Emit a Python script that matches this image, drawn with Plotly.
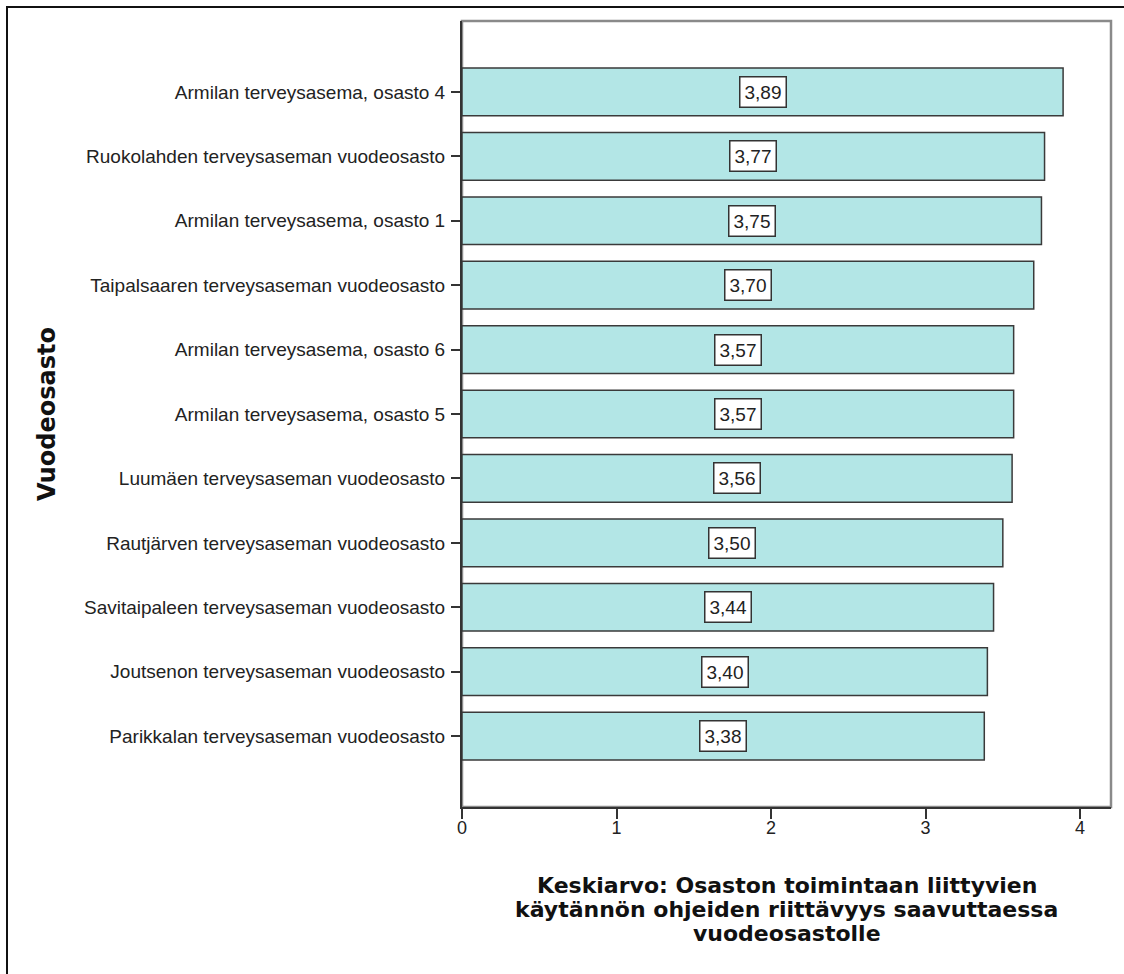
import plotly.graph_objects as go

# Ward names (top to bottom) and their mean scores
wards = [
    "Armilan terveysasema, osasto 4",
    "Ruokolahden terveysaseman vuodeosasto",
    "Armilan terveysasema, osasto 1",
    "Taipalsaaren terveysaseman vuodeosasto",
    "Armilan terveysasema, osasto 6",
    "Armilan terveysasema, osasto 5",
    "Luumäen terveysaseman vuodeosasto",
    "Rautjärven terveysaseman vuodeosasto",
    "Savitaipaleen terveysaseman vuodeosasto",
    "Joutsenon terveysaseman vuodeosasto",
    "Parikkalan terveysaseman vuodeosasto",
]
means = [3.89, 3.77, 3.75, 3.70, 3.57, 3.57, 3.56, 3.50, 3.44, 3.40, 3.38]
x_ticks = [0, 1, 2, 3, 4]

y_title = "Vuodeosasto"
x_title_lines = [
    "Keskiarvo: Osaston toimintaan liittyvien",
    "käytännön ohjeiden riittävyys saavuttaessa",
    "vuodeosastolle",
]

W, H = 1124, 974
L, R, T, B = 462, 13, 21, 167
plot_h = H - T - B
plot_w = W - L - R

TITLE_FONT = "DejaVu Sans, Verdana, sans-serif"
TICK_FONT = "Liberation Sans, Arial, sans-serif"

fig = go.Figure()
fig.add_trace(go.Bar(
    x=means,
    y=wards,
    orientation="h",
    width=0.74,
    marker=dict(color="#b3e6e6", line=dict(color="#3a3a3a", width=1.5)),
    hoverinfo="x+y",
))

# Value boxes at the middle of each bar
for w, v in zip(wards, means):
    fig.add_annotation(
        x=v / 2, y=w, xref="x", yref="y",
        text=f"{v:.2f}".replace(".", ","),
        showarrow=False,
        font=dict(family=TICK_FONT, size=19, color="#222222"),
        bgcolor="white",
        bordercolor="#333333",
        borderwidth=1.5,
        borderpad=4,
    )

def px_to_paper_x(px):
    return (px - L) / plot_w

def px_to_paper_y(py):
    return (H - B - py) / plot_h

# X axis title, one line per annotation for tight line spacing
for i, line in enumerate(x_title_lines):
    fig.add_annotation(
        x=0.5, y=px_to_paper_y(885 + 24 * i), xref="paper", yref="paper",
        xanchor="center", yanchor="middle",
        text=f"<b>{line}</b>", showarrow=False,
        font=dict(family=TITLE_FONT, size=22, color="#111111"),
    )

# Y axis title
fig.add_annotation(
    x=px_to_paper_x(47), y=0.5, xref="paper", yref="paper",
    xanchor="center", yanchor="middle", textangle=-90,
    text=f"<b>{y_title}</b>", showarrow=False,
    font=dict(family=TITLE_FONT, size=24, color="#111111"),
)

# Plot frame (grey) and outer border (black)
fig.add_shape(type="rect", xref="paper", yref="paper", x0=0, x1=1, y0=0, y1=1,
              line=dict(color="#8a8a8a", width=2.5), layer="below")
fig.add_shape(type="rect", xref="paper", yref="paper",
              x0=px_to_paper_x(7), x1=px_to_paper_x(W + 20),
              y0=px_to_paper_y(H + 20), y1=px_to_paper_y(7),
              line=dict(color="#111111", width=2), layer="below")

fig.update_layout(
    width=W, height=H,
    margin=dict(l=L, r=R, t=T, b=B, pad=0),
    paper_bgcolor="white",
    plot_bgcolor="white",
    showlegend=False,
    font=dict(family=TICK_FONT, size=19, color="#222222"),
    xaxis=dict(
        range=[0, 4.2],
        tickvals=x_ticks,
        ticktext=[str(t) for t in x_ticks],
        ticks="outside", ticklen=10, tickwidth=1.5, tickcolor="#333333",
        showgrid=False, zeroline=False,
        showline=True, linecolor="#333333", linewidth=2,
        ticklabelstandoff=-7,
        tickfont=dict(size=18),
        fixedrange=True,
    ),
    yaxis=dict(
        type="category",
        categoryorder="array", categoryarray=wards,
        range=[len(wards) - 1 + 1.1, -1.1],
        ticks="outside", ticklen=9, tickwidth=1.5, tickcolor="#333333",
        showgrid=False, zeroline=False,
        showline=True, linecolor="#333333", linewidth=2,
        ticklabelstandoff=2,
        tickfont=dict(size=19),
        fixedrange=True,
    ),
)

fig.write_html("out.html")
